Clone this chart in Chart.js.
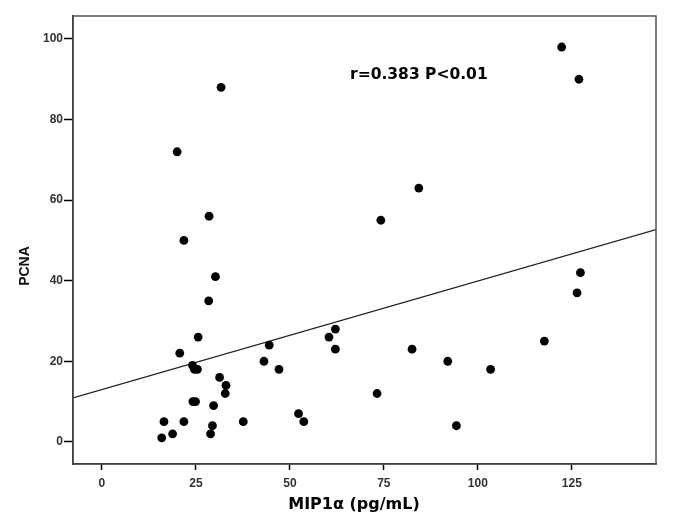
<!DOCTYPE html>
<html>
<head>
<meta charset="utf-8">
<script src="https://cdn.jsdelivr.net/npm/chart.js@4/dist/chart.umd.min.js"></script>
<style>
  html, body { margin: 0; padding: 0; background: #fff; }
  #wrap { width: 675px; height: 530px; }
</style>
</head>
<body>
<div id="wrap"><canvas id="chart" width="675" height="530"></canvas></div>
<script>
// MIP1α (pg/mL) per patient
const mip = [31.7, 20.0, 28.5, 21.8, 122.3, 126.9, 84.3, 74.2, 30.2, 28.4, 25.6, 20.7, 24.1, 24.6, 25.4,
  31.3, 33.0, 32.8, 24.2, 24.9, 29.7, 16.5, 21.8, 29.4, 15.9, 18.8, 28.9, 37.6, 43.1, 44.5, 47.1,
  52.3, 53.7, 60.4, 62.1, 62.1, 127.3, 126.4, 117.7, 82.5, 92.0, 103.4, 73.2, 94.3];
// PCNA, same order
const pcna = [88, 72, 56, 50, 98, 90, 63, 55, 41, 35, 26, 22, 19, 18, 18,
  16, 14, 12, 10, 10, 9, 5, 5, 4, 1, 2, 2, 5, 20, 24, 18,
  7, 5, 26, 28, 23, 42, 37, 25, 23, 20, 18, 12, 4];

// fit line end points
const fitX = [-7.7, 147.4];
const fitY = [10.9, 52.7];

const xTicks = [0, 25, 50, 75, 100, 125];
const yTicks = [0, 20, 40, 60, 80, 100];
const xTitle = "MIP1α (pg/mL)";
const yTitle = "PCNA";
const note = "r=0.383 P<0.01";

const tickFont = { family: "'Liberation Sans', Arial, sans-serif", size: 12, weight: "bold" };

//marco, títulos de ejes y texto r / P
const extras = {
  id: "extras",
  afterDraw(chart) {
    const { ctx, chartArea: a, scales } = chart;
    ctx.save();
    ctx.strokeStyle = "#555";
    ctx.lineWidth = 1.5;
    ctx.strokeRect(a.left, a.top, a.right - a.left, a.bottom - a.top);

    ctx.fillStyle = "#000";
    ctx.textBaseline = "middle";
    ctx.font = "bold 15.5px 'DejaVu Sans', Verdana, sans-serif";
    ctx.fillText(note, scales.x.getPixelForValue(66), scales.y.getPixelForValue(91.1));

    ctx.textAlign = "center";
    ctx.font = "bold 16px 'DejaVu Sans', Verdana, sans-serif";
    ctx.fillText(xTitle, 354, 505);

    ctx.fillStyle = "#111";
    ctx.font = "bold 14px 'Liberation Sans', Arial, sans-serif";
    ctx.translate(25, 266);
    ctx.rotate(-Math.PI / 2);
    ctx.fillText(yTitle, 0, 0);
    ctx.restore();
  }
};

const ctx = document.getElementById("chart").getContext("2d");
new Chart(ctx, {
  data: {
    datasets: [
      {
        type: "scatter",
        data: mip.map((x, i) => ({ x: x, y: pcna[i] })),
        backgroundColor: "#000",
        borderColor: "#000",
        pointRadius: 4.4,
        pointHoverRadius: 4.4,
        borderWidth: 0,
      },
      {
        type: "line",
        data: fitX.map((x, i) => ({ x: x, y: fitY[i] })),
        borderColor: "#222",
        borderWidth: 1.3,
        pointRadius: 0,
        fill: false,
      },
    ],
  },
  options: {
    responsive: false,
    animation: false,
    events: [],
    layout: { padding: { top: 16, right: 19, left: 0, bottom: 0 } },
    plugins: { legend: { display: false }, tooltip: { enabled: false } },
    scales: {
      x: {
        type: "linear",
        min: -7.7,
        max: 147.4,
        afterFit: s => { s.height = 66; },
        afterBuildTicks: s => { s.ticks = xTicks.map(v => ({ value: v })); },
        grid: { drawOnChartArea: false, tickLength: 6, color: "#000", tickWidth: 1.5 },
        border: { color: "#000", width: 1.5 },
        ticks: { color: "#333", font: tickFont, padding: 6, maxRotation: 0 },
      },
      y: {
        type: "linear",
        min: -5.5,
        max: 105.7,
        afterFit: s => { s.width = 73; },
        afterBuildTicks: s => { s.ticks = yTicks.map(v => ({ value: v })); },
        grid: { drawOnChartArea: false, tickLength: 9, color: "#000", tickWidth: 1.5 },
        border: { color: "#000", width: 1.5 },
        ticks: { color: "#333", font: tickFont, padding: 1 },
      },
    },
  },
  plugins: [extras],
});
</script>
</body>
</html>
